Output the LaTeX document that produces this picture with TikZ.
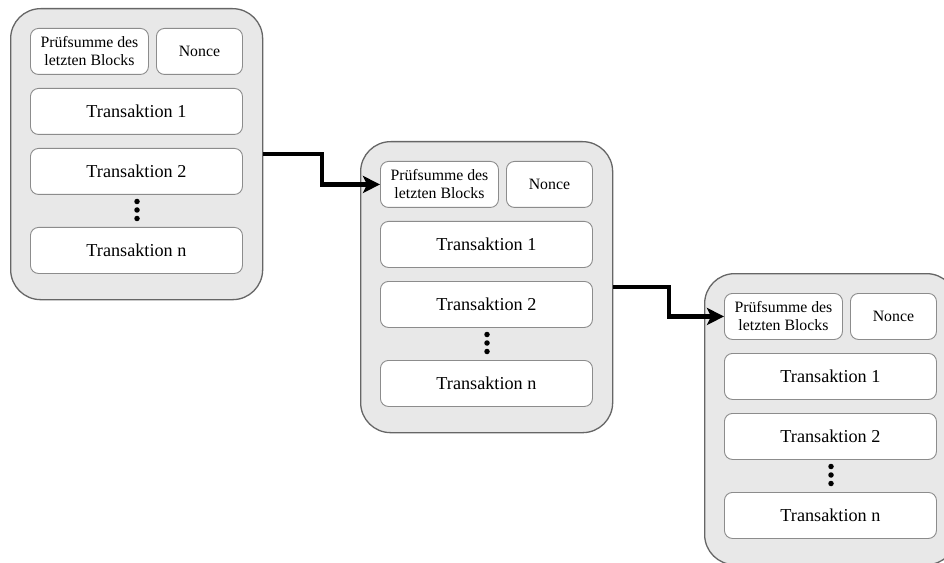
\documentclass[tikz,border=0pt]{standalone}
\usepackage{fontspec}
\setmainfont{Liberation Serif}
\usetikzlibrary{arrows.meta,calc}
\tikzset{
  outerbox/.style={draw=black!60, line width=1.3bp, fill=black!9, rounded corners=30bp, minimum width=252bp, minimum height=291bp, anchor=north west, inner sep=0pt},
  innerbox/.style={draw=black!45, line width=0.9bp, fill=white, rounded corners=8bp, minimum height=46bp, anchor=north west, inner sep=0pt, align=center},
  smalltext/.style={font=\fontsize{15.8bp}{18bp}\selectfont},
  bigtext/.style={font=\fontsize{18.2bp}{21bp}\selectfont},
  dotmark/.style={circle, fill=black, inner sep=0pt, minimum size=5.5bp},
  chain/.style={line width=4.2bp, -{Stealth[length=17bp,width=17bp,inset=4bp]}}
}
\newcommand{\Blk}[3]{%
  \begin{scope}[shift={(#2,#3)}]
    \node[outerbox] (#1o) at (0,0) {};
    \node[innerbox, smalltext, minimum width=118bp] (#1p) at (20,20) {Prüfsumme des\\letzten Blocks};
    \node[innerbox, smalltext, minimum width=86bp] (#1n) at (146,20) {Nonce};
    \node[innerbox, bigtext, minimum width=212bp] (#1t1) at (20,80) {Transaktion 1};
    \node[innerbox, bigtext, minimum width=212bp] (#1t2) at (20,140) {Transaktion 2};
    \node[dotmark] (#1da) at (127,193.5) {};
    \node[dotmark] (#1db) at (127,202) {};
    \node[dotmark] (#1dc) at (127,210.5) {};
    \node[innerbox, bigtext, minimum width=212bp] (#1tn) at (20,219) {Transaktion n};
  \end{scope}}
\begin{document}
\begin{tikzpicture}[x=1bp, y=-1bp]
  \useasboundingbox (0,0) rectangle (944,563);
  \clip (0,0) rectangle (944,563);
  \fill[white] (0,0) rectangle (944,563);
  \Blk{a}{10}{8}
  \Blk{b}{360}{141}
  \Blk{c}{704}{273}
  \coordinate (m1) at ($(ao.east)!0.5!(bp.west)$);
  \coordinate (m2) at ($(bo.east)!0.5!(cp.west)$);
  \draw[chain] (ao.east) -| (m1) |- (bp.west);
  \draw[chain] (bo.east) -| (m2) |- (cp.west);
\end{tikzpicture}
\end{document}
